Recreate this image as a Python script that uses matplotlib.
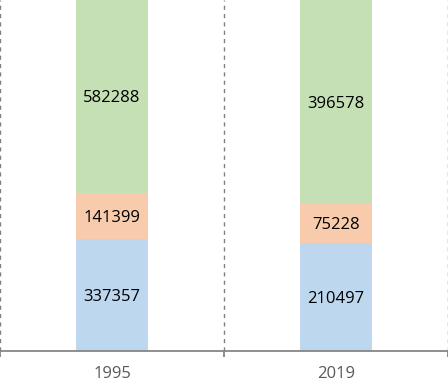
import numpy as np
import matplotlib.pyplot as plt

# values (100% stacked columns)
years = ['1995', '2019']
bottom_vals = [337357, 210497]
middle_vals = [141399, 75228]
top_vals = [582288, 396578]

colors = ['#bdd7ee', '#f8cbad', '#c5e0b4']
plt.rcParams['font.family'] = ['Open Sans', 'DejaVu Sans']

series = np.array([bottom_vals, middle_vals, top_vals], dtype=float)
totals = series.sum(axis=0)
shares = series / totals

fig = plt.figure(figsize=(4.48, 3.81), dpi=100)
ax = fig.add_axes([0, 30 / 381, 1, 351 / 381])

x = np.arange(len(years))
base = np.zeros(len(years))
for i in range(len(series)):
    bars = ax.bar(x, shares[i], 0.317, bottom=base, color=colors[i], zorder=2)
    for j, b in enumerate(bars):
        ax.text(b.get_x() + b.get_width() / 2, base[j] + shares[i][j] / 2,
                '{:d}'.format(int(series[i][j])), ha='center', va='center_baseline',
                fontsize=12, color='black', zorder=3)
    base += shares[i]

ax.set_xlim(-0.5, 1.5)
ax.set_ylim(0, 1)

# dashed separators between categories
for bx in [-0.5, 0.5, 1.5]:
    ax.axvline(bx, color='#808080', linestyle=(0, (3, 3)), linewidth=1, clip_on=False, zorder=1)

for s in ['top', 'left', 'right']:
    ax.spines[s].set_visible(False)
ax.spines['bottom'].set_color('#868686')
ax.spines['bottom'].set_linewidth(1.3)

ax.set_yticks([])
ax.set_xticks(x)
ax.set_xticklabels(years, color='#595959', fontsize=12)
ax.tick_params(axis='x', which='major', length=0, pad=11)
ax.set_xticks([-0.5, 0.5, 1.5], minor=True)
ax.tick_params(axis='x', which='minor', length=4, color='#868686', width=1.3)

fig.savefig('out.png', dpi=100)
